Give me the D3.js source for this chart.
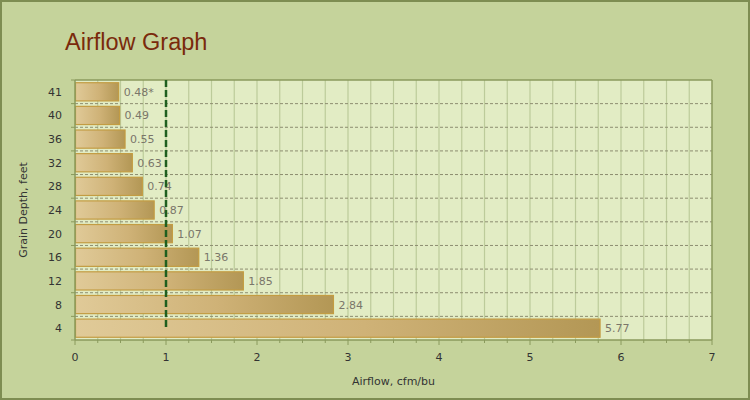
<!DOCTYPE html>
<html>
<head>
<meta charset="utf-8">
<script src="https://cdn.jsdelivr.net/npm/d3@7"></script>
<style>
    body { margin: 0; background: #c5d39b; }
    svg { display: block; }
    .tick-label { font-family: "DejaVu Sans", Verdana, sans-serif; font-size: 11px; fill: #333; }
    .value-label { font-family: "DejaVu Sans", Verdana, sans-serif; font-size: 11px; fill: #7a766a; }
    .axis-title { font-family: "DejaVu Sans", Verdana, sans-serif; font-size: 11px; fill: #333; }
</style>
</head>
<body>
<div id="chart"></div>
<script>
    // data, top to bottom
    var depths = ["41", "40", "36", "32", "28", "24", "20", "16", "12", "8", "4"];
    var airflow = [0.48, 0.49, 0.55, 0.63, 0.74, 0.87, 1.07, 1.36, 1.85, 2.84, 5.77];
    var valueLabels = ["0.48*", "0.49", "0.55", "0.63", "0.74", "0.87", "1.07", "1.36", "1.85", "2.84", "5.77"];
    var xTicks = [0, 1, 2, 3, 4, 5, 6, 7];
    var refValue = 1;

    var W = 750, H = 400;
    var m = {left: 75, right: 38, top: 80, bottom: 60};
    var pw = W - m.left - m.right, ph = H - m.top - m.bottom;

    var svg = d3.select("#chart").append("svg")
                .attr("width", W)
                .attr("height", H);

    var defs = svg.append("defs");
    var grad = defs.append("linearGradient")
                   .attr("id", "barGrad")
                   .attr("x1", "0%").attr("x2", "100%")
                   .attr("y1", "0%").attr("y2", "0%");
    grad.append("stop").attr("offset", "0%").attr("stop-color", "#e0ca98");
    grad.append("stop").attr("offset", "55%").attr("stop-color", "#cfb277");
    grad.append("stop").attr("offset", "100%").attr("stop-color", "#b39755");

    // background + outer frame
    svg.append("rect")
       .attr("x", 1).attr("y", 1)
       .attr("width", W - 2).attr("height", H - 2)
       .attr("fill", "#c5d39b")
       .attr("stroke", "#7e8d52")
       .attr("stroke-width", 2);

    svg.append("text")
       .attr("x", 65).attr("y", 50)
       .attr("font-family", "Liberation Sans, Arial, sans-serif")
       .attr("font-size", "23.5px")
       .attr("fill", "#7a2a0c")
       .text("Airflow Graph");

    var g = svg.append("g").attr("transform", `translate(${m.left},${m.top})`);

    var x = d3.scaleLinear().domain([0, 7]).range([0, pw]);
    var rows = d3.scaleBand().domain(depths).range([0, ph]).padding(0);
    var y = d3.scaleBand().domain(depths).range([0, ph])
              .paddingInner(0.23).paddingOuter(0.115);

    g.append("rect")
     .attr("width", pw).attr("height", ph)
     .attr("fill", "#e2ecc4");

    // vertical grid every 0.25
    var quarters = d3.range(0, 7.001, 0.25);
    g.selectAll(".vgrid")
     .data(quarters.slice(1, -1))
     .enter().append("line")
     .attr("x1", function(d) { return x(d); })
     .attr("x2", function(d) { return x(d); })
     .attr("y1", 0).attr("y2", ph)
     .attr("stroke", "#bccb9a")
     .attr("stroke-width", 1.2);

    // row boundaries
    var bounds = depths.slice(1).map(function(d) { return rows(d); });
    g.selectAll(".hgrid")
     .data(bounds)
     .enter().append("line")
     .attr("x1", 0).attr("x2", pw)
     .attr("y1", function(d) { return d; })
     .attr("y2", function(d) { return d; })
     .attr("stroke", "#8d8d70")
     .attr("stroke-dasharray", "3,2");

    // bars
    g.selectAll(".bar")
     .data(airflow)
     .enter().append("rect")
     .attr("x", 0.5)
     .attr("y", function(d, i) { return y(depths[i]); })
     .attr("width", function(d) { return x(d) - 0.5; })
     .attr("height", y.bandwidth())
     .attr("fill", "url(#barGrad)")
     .attr("stroke", "#c39c42")
     .attr("stroke-width", 1.2);

    g.selectAll(".value-label")
     .data(airflow)
     .enter().append("text")
     .attr("class", "value-label")
     .attr("x", function(d) { return x(d) + 5; })
     .attr("y", function(d, i) { return rows(depths[i]) + rows.bandwidth() / 2; })
     .attr("dy", "0.36em")
     .text(function(d, i) { return valueLabels[i]; });

    // axes lines + border
    var axisCol = "#8a9a5c";
    g.append("line").attr("x1", 0).attr("x2", pw).attr("y1", 0).attr("y2", 0)
     .attr("stroke", axisCol).attr("stroke-width", 1.5);
    g.append("line").attr("x1", pw).attr("x2", pw).attr("y1", 0).attr("y2", ph)
     .attr("stroke", axisCol).attr("stroke-width", 1.5);
    g.append("line").attr("x1", 0).attr("x2", 0).attr("y1", 0).attr("y2", ph)
     .attr("stroke", axisCol).attr("stroke-width", 1.5);
    g.append("line").attr("x1", 0).attr("x2", pw).attr("y1", ph).attr("y2", ph)
     .attr("stroke", axisCol).attr("stroke-width", 1.5);

    // x ticks
    g.selectAll(".xminor")
     .data(quarters)
     .enter().append("line")
     .attr("x1", function(d) { return x(d); })
     .attr("x2", function(d) { return x(d); })
     .attr("y1", ph)
     .attr("y2", function(d) { return ph + (d % 1 === 0 ? 5 : 3); })
     .attr("stroke", axisCol);

    g.selectAll(".xlabel")
     .data(xTicks)
     .enter().append("text")
     .attr("class", "tick-label")
     .attr("x", function(d) { return x(d); })
     .attr("y", ph + 21)
     .attr("text-anchor", "middle")
     .text(function(d) { return d; });

    // y ticks at row boundaries
    g.selectAll(".ytick")
     .data([0].concat(bounds, [ph]))
     .enter().append("line")
     .attr("x1", -4).attr("x2", 0)
     .attr("y1", function(d) { return d; })
     .attr("y2", function(d) { return d; })
     .attr("stroke", axisCol);

    g.selectAll(".ylabel")
     .data(depths)
     .enter().append("text")
     .attr("class", "tick-label")
     .attr("x", -13)
     .attr("y", function(d) { return rows(d) + rows.bandwidth() / 2; })
     .attr("dy", "0.36em")
     .attr("text-anchor", "end")
     .text(function(d) { return d; });

    // reference line
    g.append("line")
     .attr("x1", x(refValue)).attr("x2", x(refValue))
     .attr("y1", 0)
     .attr("y2", rows(depths[depths.length - 1]) + rows.bandwidth() / 2)
     .attr("stroke", "#1f5f1f")
     .attr("stroke-width", 2.5)
     .attr("stroke-dasharray", "7,3");

    svg.append("text")
       .attr("class", "axis-title")
       .attr("x", m.left + pw / 2)
       .attr("y", 385)
       .attr("text-anchor", "middle")
       .text("Airflow, cfm/bu");

    svg.append("text")
       .attr("class", "axis-title")
       .attr("transform", `translate(27,${m.top + ph / 2}) rotate(-90)`)
       .attr("text-anchor", "middle")
       .text("Grain Depth, feet");
</script>
</body>
</html>
